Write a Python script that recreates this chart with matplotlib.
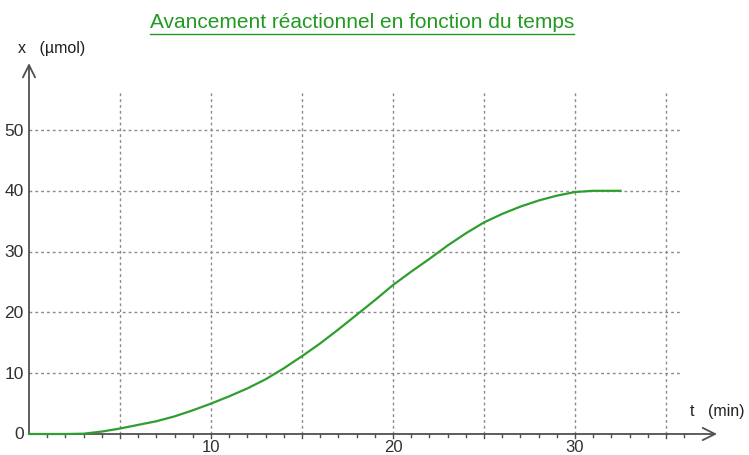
import matplotlib
matplotlib.use("Agg")
import matplotlib.pyplot as plt
import numpy as np

plt.rcParams['font.family'] = ['Liberation Sans', 'DejaVu Sans']

t_min = [0, 1, 2, 3, 4, 5, 6, 7, 8, 9, 10, 11, 12, 13, 14, 15, 16, 17, 18, 19,
         20, 21, 22, 23, 24, 25, 26, 27, 28, 29, 30, 31, 32, 32.5]
x_umol = [0, 0, 0, 0.05, 0.4, 0.9, 1.5, 2.1, 2.9, 3.9, 5.0, 6.2, 7.5, 9.0, 10.8,
          12.8, 14.9, 17.2, 19.6, 22.0, 24.5, 26.7, 28.8, 31.0, 33.0, 34.8, 36.2,
          37.4, 38.4, 39.2, 39.8, 40.0, 40.0, 40.0]
x_tick_labels = [10, 20, 30]
y_tick_labels = [0, 10, 20, 30, 40, 50]
title = "Avancement réactionnel en fonction du temps"

W, H = 749, 456
fig = plt.figure(figsize=(W / 100, H / 100), dpi=100)
px_per_t = 18.2
px_per_x = 6.08
x0_px, y0_px = 29, 435
xmax, ymax = 39, 62
ax = fig.add_axes([x0_px / W, (H - y0_px) / H, xmax * px_per_t / W, ymax * px_per_x / H])
ax.set_xlim(0, xmax)
ax.set_ylim(0, ymax)
ax.axis('off')

grid_kw = dict(color='#8a8a8a', lw=1, linestyle=(0, (2, 2.2)), zorder=1)
for yv in [10, 20, 30, 40, 50]:
    ax.plot([0, 35.8], [yv, yv], clip_on=False, **grid_kw)
for tv in [5, 10, 15, 20, 25, 30, 35]:
    ax.plot([tv, tv], [0, 56.6], clip_on=False, **grid_kw)

# axes with arrows
axis_col = '#505050'
ax.annotate('', xy=(37.8, 0), xytext=(0, 0),
            arrowprops=dict(arrowstyle='->', color=axis_col, lw=1.3, mutation_scale=22,
                            shrinkA=0, shrinkB=0), annotation_clip=False, zorder=3)
ax.annotate('', xy=(0, 61), xytext=(0, 0),
            arrowprops=dict(arrowstyle='->', color=axis_col, lw=1.3, mutation_scale=22,
                            shrinkA=0, shrinkB=0), annotation_clip=False, zorder=3)

# small ticks on t axis
for tv in range(1, 37):
    L = 0.7 if tv % 5 == 0 else 0.45
    ax.plot([tv, tv], [0, -L], color=axis_col, lw=1, clip_on=False, zorder=3)

ax.plot(t_min, x_umol, color='#2f9e2f', lw=1.6, clip_on=False, zorder=4)

for v in x_tick_labels:
    ax.text(v, -0.9, str(v), ha='center', va='top', fontsize=12, color='#303030')
for v in y_tick_labels:
    ax.text(-0.3, v, str(v), ha='right', va='center', fontsize=12.5, color='#303030')

ax.text(-0.6, 63.5, 'x   (µmol)', ha='left', va='center', fontsize=11.5, color='#202020')
ax.text(36.3, 3.8, 't   (min)', ha='left', va='center', fontsize=11.5, color='#202020')

tt = fig.text(362 / W, 1 - 22 / H, title, ha='center', va='center', fontsize=15, color='#229a22')
fig.canvas.draw()
bb = tt.get_window_extent()
fig.add_artist(plt.Line2D([bb.x0 / W, bb.x1 / W], [1 - 35 / H, 1 - 35 / H],
                          color='#229a22', lw=1, transform=fig.transFigure))

fig.savefig('out.png', dpi=100)
